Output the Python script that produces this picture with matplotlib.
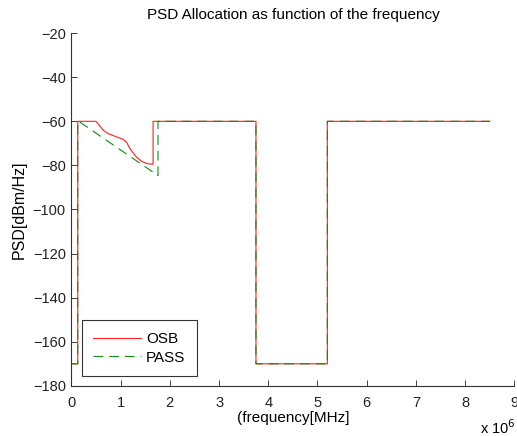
import matplotlib
matplotlib.use("Agg")
import matplotlib.pyplot as plt

plt.rcParams['font.family'] = ['Liberation Sans', 'DejaVu Sans']
plt.rcParams['lines.scale_dashes'] = False

# frequencies in MHz-units (x 10^6 Hz), PSD in dBm/Hz
osb_freq = [0.0, 0.13, 0.13, 0.50, 0.65, 0.75, 0.92, 1.05, 1.12, 1.19, 1.32, 1.43, 1.54, 1.66, 1.66,
            3.75, 3.75, 5.20, 5.20, 8.50]
osb_psd = [-170, -170, -60, -60, -64.1, -65.6, -67.1, -68.2, -69.4, -72.4, -76.2, -78.2, -79.2, -79.5, -60,
           -60, -170, -170, -60, -60]

pass_freq = [0.0, 0.13, 0.13, 0.15, 1.76, 1.76, 3.75, 3.75, 5.20, 5.20, 8.50]
pass_psd = [-170, -170, -60, -60, -84.6, -60, -60, -170, -170, -60, -60]

xticks = [0, 1, 2, 3, 4, 5, 6, 7, 8, 9]
yticks = [-180, -160, -140, -120, -100, -80, -60, -40, -20]

fig = plt.figure(figsize=(5.17, 4.36), dpi=100)
ax = fig.add_axes([0.138, 0.115, 0.857, 0.809])

scale = 1e6
ax.plot([f * scale for f in osb_freq], osb_psd, color='#ff2020', lw=0.8, label='OSB')
ax.plot([f * scale for f in pass_freq], pass_psd, color='#108a10', lw=0.8, ls=(0, (7.0, 4.3)), label='PASS')

ax.set_xlim(0, 9 * scale)
ax.set_ylim(-180, -20)
ax.set_xticks([t * scale for t in xticks])
ax.set_xticklabels([str(t) for t in xticks])
ax.set_yticks(yticks)
ax.set_yticklabels([str(t).replace('-', '\u2212') for t in yticks])

for s in ['top', 'right']:
    ax.spines[s].set_visible(False)
for s in ['left', 'bottom']:
    ax.spines[s].set_color('#333333')
    ax.spines[s].set_linewidth(0.8)
ax.tick_params(direction='in', length=4, width=0.6, labelsize=10.5, colors='#222222')
ax.tick_params(axis='x', pad=7)
ax.tick_params(axis='y', pad=4)

ax.set_title('PSD Allocation as function of the frequency', fontsize=11, pad=10)
ax.set_xlabel('(frequency[MHz]', fontsize=11, labelpad=1)
ax.set_ylabel('PSD[dBm/Hz]', fontsize=11.5, labelpad=4)
fig.text(0.998, 0.004, r'x 10$^{6}$', ha='right', va='baseline', fontsize=10.5)

leg = ax.legend(loc='lower left', bbox_to_anchor=(0.024, 0.028), borderaxespad=0, fontsize=11,
                fancybox=False, edgecolor='black', handlelength=3.1, handletextpad=0.35,
                borderpad=0.75, labelspacing=0.3)
leg.get_frame().set_linewidth(0.8)

fig.savefig('out.png', dpi=100)
